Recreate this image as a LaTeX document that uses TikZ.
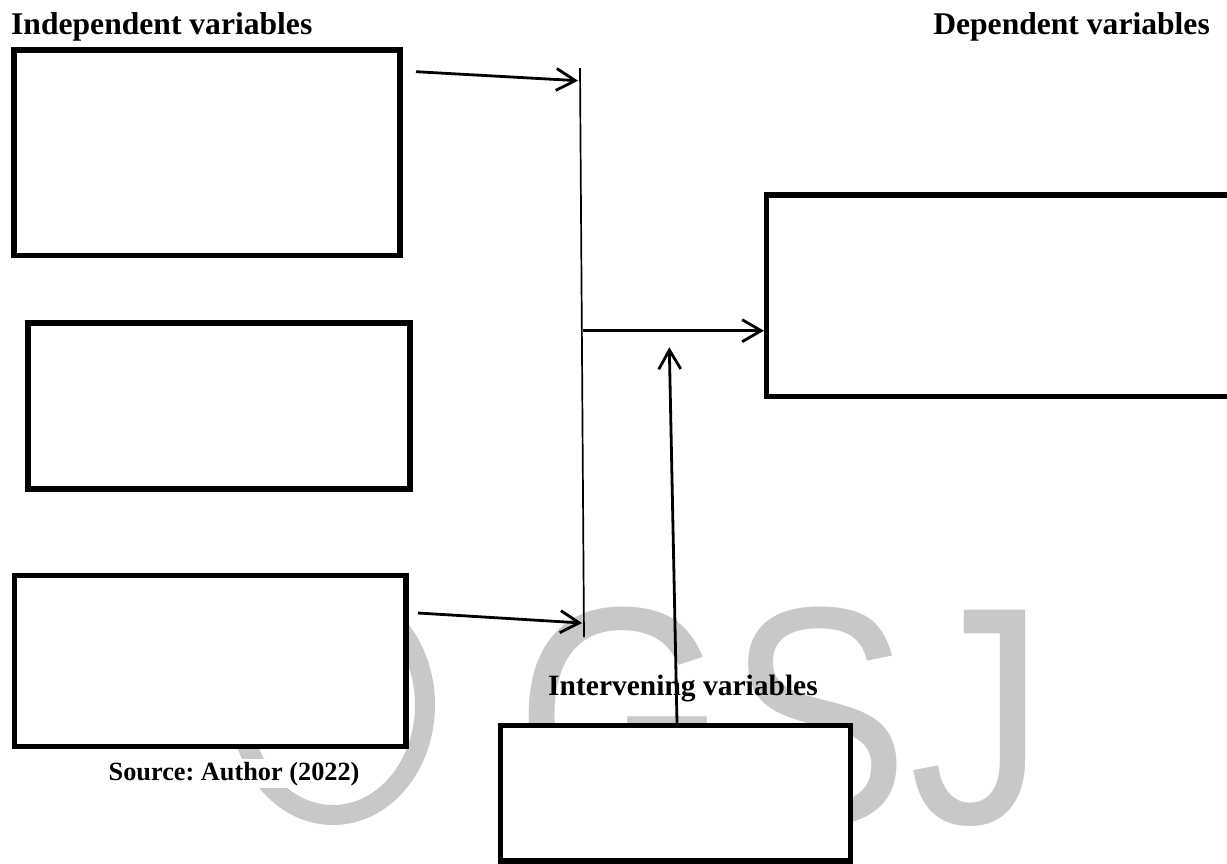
\documentclass[tikz,border=0pt]{standalone}
\usepackage{fontspec}
\setmainfont{Liberation Serif}
\newfontfamily\wmfont{Liberation Sans}
\usetikzlibrary{arrows.meta}
\definecolor{wmgray}{RGB}{200,200,200}
\frenchspacing
\tikzset{
  box/.style={draw=black, line width=5.5pt, fill=white, inner sep=0pt},
  title/.style={font=\bfseries\fontsize{31.6}{36}\selectfont, inner sep=0pt},
  barline/.style={draw=black, line width=1.7pt},
  conn/.style={draw=black, line width=2.8pt, -{Straight Barb[length=19pt, width=22pt, line width=2.8pt]}},
}
\begin{document}
\begin{tikzpicture}[x=1pt, y=-1pt]
\clip (0,0) rectangle (1227,863);
\fill[white] (0,0) rectangle (1227,863);
% watermark
\draw[wmgray, line width=20pt] (333,705) ellipse [x radius=92, y radius=110];
\node[wmgray, font=\wmfont\fontsize{310}{310}\selectfont, anchor=base west, inner sep=0pt, xscale=0.88] (wm) at (515,823) {GSJ};
% boxes
\node[box, minimum width=386pt, minimum height=205.5pt] (b1) at (207,152.5) {};
\node[box, minimum width=382pt, minimum height=166pt] (b2) at (219,406) {};
\node[box, minimum width=391.5pt, minimum height=171pt] (b3) at (210.25,661) {};
\node[box, minimum width=473.3pt, minimum height=201.5pt] (b4) at (1003.35,295.75) {};
\node[box, minimum width=350pt, minimum height=135.5pt] (b5) at (675.5,793.25) {};
% texts
\node[title, anchor=base west] (tind) at (11,34) {Independent variables};
\node[title, anchor=base east] (tdep) at (1210,34) {Dependent variables};
\node[font=\bfseries\fontsize{29.5}{34}\selectfont, inner sep=0pt, anchor=base west] (tint) at (548,695) {Intervening variables};
\node[font=\bfseries\fontsize{26.3}{30}\selectfont, fill=white, inner sep=2.5pt, anchor=base west] (tsrc) at (106,780) {Source: Author (2022)};
% connector geometry
\coordinate (bt) at (580,68);
\coordinate (bb) at (584,637);
\coordinate (a1s) at (416,71.7);
\coordinate (a1e) at (578,80.7);
\coordinate (a2s) at (418,613);
\coordinate (a2e) at (582,623);
\coordinate (hs) at (582.5,330.7);
\coordinate (upe) at (669.3,347.3);
% connectors
\draw[barline] (bt) -- (bb);
\draw[conn] (a1s) -- (a1e);
\draw[conn] (a2s) -- (a2e);
\draw[conn] (hs) -- (b4.west |- hs);
\draw[conn] ([xshift=1.5pt]b5.north) -- (upe);
\end{tikzpicture}
\end{document}
